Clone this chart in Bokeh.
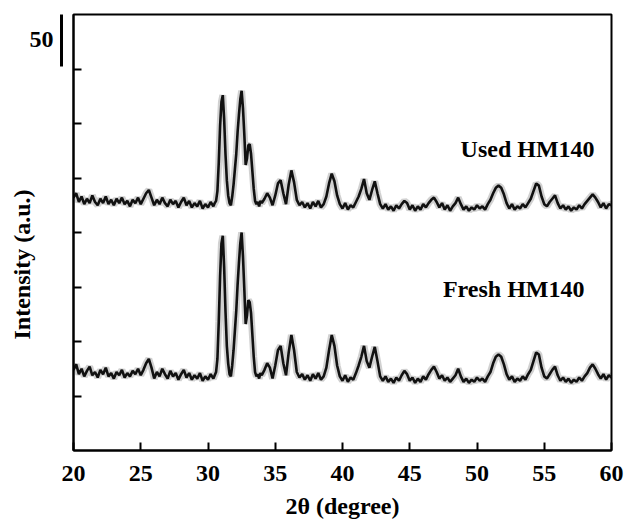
from bokeh.plotting import figure
from bokeh.models import Label, FixedTicker, Range1d, LinearAxis, Title
from bokeh.embed import file_html
from bokeh.resources import INLINE

two_theta = [
    20.0, 20.2, 20.4, 20.6, 20.8, 21.0, 21.2, 21.4, 21.6, 21.8,
    22.0, 22.2, 22.4, 22.6, 22.8, 23.0, 23.2, 23.4, 23.6, 23.8,
    24.0, 24.2, 24.4, 24.6, 24.8, 25.0, 25.2, 25.4, 25.6, 25.8,
    26.0, 26.2, 26.4, 26.6, 26.8, 27.0, 27.2, 27.4, 27.6, 27.8,
    28.0, 28.2, 28.4, 28.6, 28.8, 29.0, 29.2, 29.4, 29.6, 29.8,
    30.0, 30.2, 30.4,
    30.5, 30.6, 30.7, 30.8, 30.9, 31.0, 31.1, 31.2, 31.3, 31.4,
    31.5, 31.6, 31.7, 31.8, 31.9, 32.0, 32.1, 32.2, 32.3, 32.4,
    32.5, 32.6, 32.7, 32.8, 32.9, 33.0, 33.1, 33.2, 33.3, 33.4,
    33.5, 33.6, 33.7, 33.8, 33.9, 34.0,
    34.2, 34.4, 34.6, 34.8, 35.0, 35.2, 35.4, 35.6, 35.8, 36.0,
    36.2, 36.4, 36.6, 36.8, 37.0, 37.2, 37.4, 37.6, 37.8, 38.0,
    38.2, 38.4, 38.6, 38.8, 39.0, 39.2, 39.4, 39.6, 39.8, 40.0,
    40.2, 40.4, 40.6, 40.8, 41.0, 41.2, 41.4, 41.6, 41.8, 42.0,
    42.2, 42.4, 42.6, 42.8, 43.0, 43.2, 43.4, 43.6, 43.8, 44.0,
    44.2, 44.4, 44.6, 44.8, 45.0, 45.2, 45.4, 45.6, 45.8, 46.0,
    46.2, 46.4, 46.6, 46.8, 47.0, 47.2, 47.4, 47.6, 47.8, 48.0,
    48.2, 48.4, 48.6, 48.8, 49.0, 49.2, 49.4, 49.6, 49.8, 50.0,
    50.2, 50.4, 50.6, 50.8, 51.0, 51.2, 51.4, 51.6, 51.8, 52.0,
    52.2, 52.4, 52.6, 52.8, 53.0, 53.2, 53.4, 53.6, 53.8, 54.0,
    54.2, 54.4, 54.6, 54.8, 55.0, 55.2, 55.4, 55.6, 55.8, 56.0,
    56.2, 56.4, 56.6, 56.8, 57.0, 57.2, 57.4, 57.6, 57.8, 58.0,
    58.2, 58.4, 58.6, 58.8, 59.0, 59.2, 59.4, 59.6, 59.8, 60.0,
]

fresh_hm140 = [
    74, 79, 70, 75, 68, 73, 77, 69, 72, 67,
    74, 70, 76, 68, 71, 66, 72, 69, 74, 67,
    71, 68, 73, 70, 75, 69, 74, 80, 84, 76,
    66, 72, 68, 75, 70, 66, 73, 68, 71, 65,
    70, 74, 67, 71, 65, 69, 66, 71, 64, 68,
    65, 70, 66,
    69, 72, 84, 118, 160, 190, 197, 168, 128, 96,
    80, 70, 68, 78, 92, 110, 128, 152, 172, 190,
    200, 178, 148, 116, 124, 138, 136, 126, 106, 86,
    72, 68, 70, 66, 71, 69,
    74, 80, 76, 66, 78, 92, 96, 80, 69, 90,
    106, 92, 72, 67, 70, 65, 69, 64, 70, 66,
    71, 65, 68, 76, 92, 106, 96, 78, 68, 64,
    69, 63, 67, 65, 71, 78, 86, 96, 82, 76,
    86, 95, 82, 68, 64, 68, 63, 66, 62, 67,
    64, 69, 73, 70, 64, 67, 62, 66, 63, 68,
    65, 70, 74, 77, 72, 66, 69, 64, 67, 63,
    66, 69, 75, 68, 63, 66, 62, 65, 63, 67,
    64, 66, 63, 68, 72, 80, 86, 88, 86, 79,
    70, 65, 68, 63, 66, 64, 68, 65, 70, 74,
    82, 90, 88, 76, 68, 66, 70, 74, 77, 69,
    64, 67, 63, 66, 62, 65, 63, 67, 64, 68,
    71, 76, 79, 75, 70, 66, 70, 65, 69, 67,
]

used_hm140 = [
    232, 236, 228, 233, 226, 231, 227, 234, 228, 225,
    231, 227, 233, 226, 230, 225, 231, 227, 232, 226,
    229, 224, 230, 227, 232, 226, 231, 236, 239, 232,
    225, 230, 226, 232, 227, 224, 230, 226, 229, 223,
    228, 232, 225, 229, 223, 227, 224, 229, 222, 226,
    223, 228, 224,
    227, 229, 238, 264, 298, 320, 326, 304, 272, 248,
    234, 227, 225, 233, 244, 258, 272, 292, 308, 322,
    330, 314, 290, 262, 268, 280, 281, 272, 256, 240,
    229, 226, 228, 224, 229, 227,
    231, 236, 232, 225, 234, 245, 248, 236, 226, 244,
    257, 246, 230, 225, 228, 223, 227, 222, 228, 224,
    229, 223, 226, 233, 245, 254, 247, 234, 226, 222,
    227, 221, 225, 223, 228, 233, 240, 249, 236, 230,
    239, 247, 236, 226, 222, 226, 221, 224, 220, 225,
    222, 226, 229, 227, 221, 225, 220, 224, 221, 226,
    223, 227, 230, 232, 228, 223, 227, 221, 225, 220,
    224, 227, 232, 226, 221, 224, 220, 223, 221, 225,
    222, 224, 221, 226, 230, 236, 241, 243, 241, 235,
    227, 222, 226, 221, 224, 222, 226, 223, 227, 231,
    238, 245, 243, 233, 226, 224, 228, 231, 234, 227,
    222, 225, 221, 224, 220, 223, 221, 225, 222, 226,
    229, 232, 235, 232, 228, 223, 227, 222, 226, 225,
]

x_ticks = [20, 25, 30, 35, 40, 45, 50, 55, 60]
y_ticks = [50, 100, 150, 200, 250, 300, 350]
series_labels = ["Used HM140", "Fresh HM140"]
scale_bar = (352, 402)
scale_mid = 377
scale_text = "50"
y_title = "Intensity (a.u.)"

FONT = "Liberation Serif"
FS = "24px"

p = figure(width=631, height=521, output_backend="svg", toolbar_location=None,
           x_range=Range1d(20, 60), y_range=Range1d(0, 400),
           min_border_left=73, min_border_right=20, min_border_top=14,
           min_border_bottom=66)
p.background_fill_color = "white"
p.border_fill_color = "white"
p.outline_line_color = "black"
p.outline_line_width = 2
p.xgrid.visible = False
p.ygrid.visible = False

for series in (fresh_hm140, used_hm140):
    p.line(two_theta, series, line_color="black", line_width=7, line_alpha=0.18)
    p.line(two_theta, series, line_color="#111111", line_width=2.6)

xa = p.xaxis[0]
xa.ticker = FixedTicker(ticks=x_ticks)
xa.axis_label = "2θ (degree)"
xa.axis_label_text_font = FONT
xa.axis_label_text_font_style = "bold"
xa.axis_label_text_font_size = FS
xa.axis_label_text_color = "black"
xa.axis_label_standoff = 9
xa.major_label_text_font = FONT
xa.major_label_text_font_style = "bold"
xa.major_label_text_font_size = FS
xa.major_label_text_color = "black"
xa.major_label_standoff = 15

ya = p.yaxis[0]
ya.ticker = FixedTicker(ticks=y_ticks)
ya.major_label_text_color = None

for ax in (xa, ya):
    ax.axis_line_width = 2
    ax.axis_line_color = "black"
    ax.major_tick_in = 8
    ax.major_tick_out = 0
    ax.major_tick_line_width = 2
    ax.major_tick_line_color = "black"
    ax.minor_tick_line_color = None

# empty gap between the frame and the scale bar (invisible outward tick)
gap_axis = LinearAxis(ticker=FixedTicker(ticks=[20]), axis_line_color=None,
                      major_tick_in=0, major_tick_out=12,
                      major_tick_line_color="white", major_tick_line_alpha=0.001,
                      minor_tick_line_color=None,
                      major_label_text_color=None)
p.add_layout(gap_axis, "left")

# 50-count scale bar, drawn as a short bounded axis left of the frame
scale_axis = LinearAxis(bounds=scale_bar,
                        ticker=FixedTicker(ticks=[scale_mid]),
                        major_label_overrides={scale_mid: scale_text},
                        major_tick_in=0, major_tick_out=0,
                        minor_tick_line_color=None,
                        axis_line_width=3, axis_line_color="black",
                        major_label_standoff=8,
                        major_label_text_font=FONT,
                        major_label_text_font_style="bold",
                        major_label_text_font_size=FS,
                        major_label_text_color="black")
p.add_layout(scale_axis, "left")

p.add_layout(Title(text=y_title, align="left", offset=111, standoff=-17,
                   text_font=FONT, text_font_style="bold",
                   text_font_size=FS, text_color="black"), "left")

def lab(x, y, text, **kw):
    return Label(x=x, y=y, text=text, text_font=FONT, text_font_style="bold",
                 text_font_size=FS, text_color="black", **kw)

p.add_layout(lab(58.74, 276.5, series_labels[0], text_align="right",
                 text_baseline="alphabetic"))
p.add_layout(lab(57.99, 148.5, series_labels[1], text_align="right",
                 text_baseline="alphabetic"))

open("out.html", "w").write(file_html(p, INLINE))
